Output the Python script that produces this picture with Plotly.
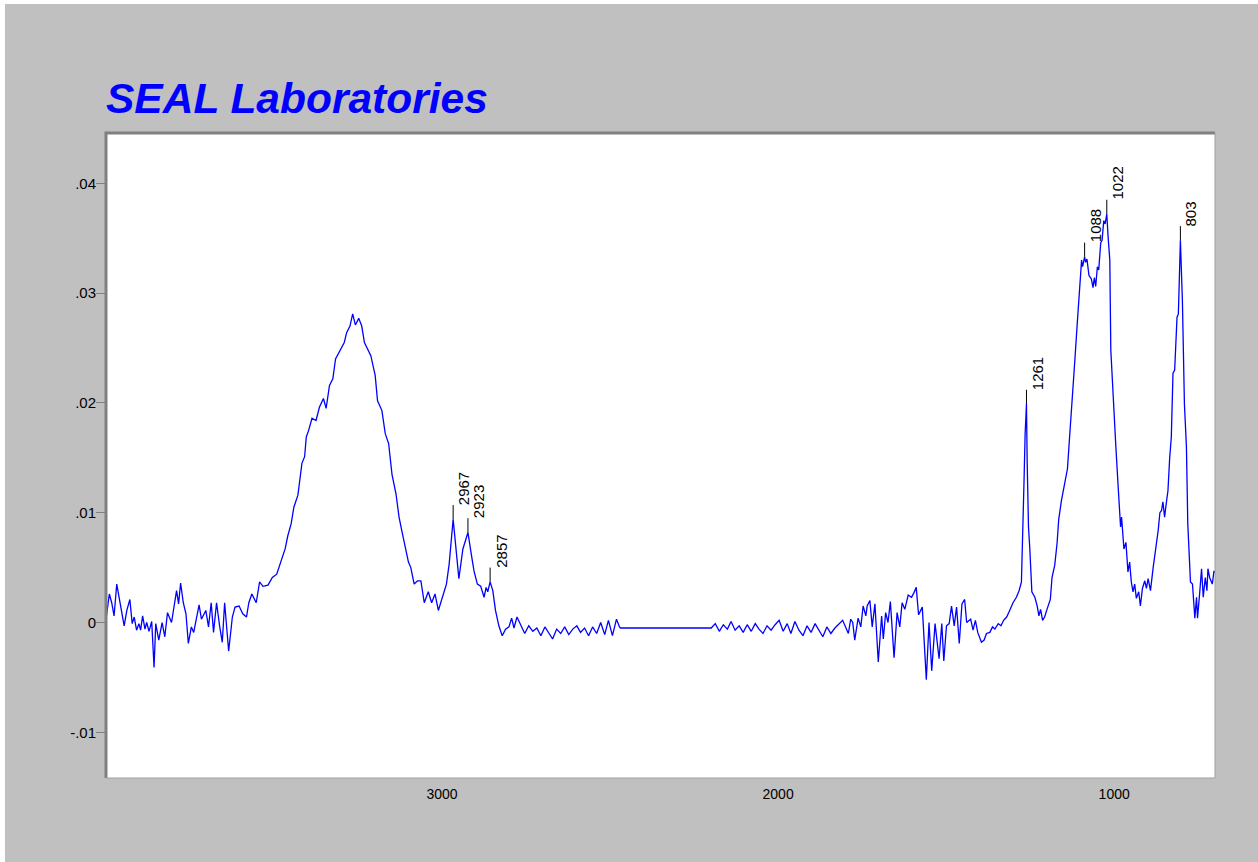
import plotly.graph_objects as go

wavenumber = [
    4000, 3990, 3983, 3976, 3968, 3958, 3946, 3938, 3929, 3922,
    3916, 3909, 3902, 3897, 3891, 3884, 3879, 3872, 3864, 3857,
    3852, 3843, 3833, 3825, 3817, 3805, 3798, 3790, 3784, 3778,
    3770, 3762, 3755, 3746, 3739, 3731, 3723, 3716, 3703, 3695,
    3687, 3680, 3671, 3662, 3654, 3647, 3635, 3624, 3616, 3604,
    3593, 3582, 3575, 3566, 3553, 3543, 3533, 3518, 3505, 3492,
    3479, 3467, 3459, 3449, 3441, 3429, 3424, 3417, 3409, 3404,
    3397, 3387, 3375, 3365, 3353, 3345, 3335, 3325, 3317, 3306,
    3291, 3284, 3274, 3266, 3258, 3248, 3239, 3231, 3222, 3212,
    3199, 3192, 3179, 3169, 3159, 3149, 3137, 3128, 3118, 3108,
    3100, 3093, 3083, 3073, 3063, 3053, 3041, 3031, 3021, 3011,
    2999, 2987, 2979, 2967, 2961, 2950, 2938, 2930, 2923, 2915,
    2905, 2895, 2885, 2875, 2869, 2864, 2857, 2849, 2841, 2831,
    2821, 2811, 2801, 2793, 2786, 2777, 2766, 2754, 2742, 2730,
    2718, 2706, 2694, 2683, 2671, 2659, 2647, 2635, 2623, 2611,
    2599, 2588, 2576, 2564, 2552, 2540, 2528, 2516, 2505, 2493,
    2481, 2472, 2469, 2199, 2187, 2175, 2163, 2151, 2140, 2128,
    2116, 2104, 2092, 2080, 2068, 2057, 2045, 2033, 2021, 2009,
    1997, 1985, 1973, 1962, 1950, 1938, 1926, 1914, 1902, 1890,
    1878, 1867, 1855, 1843, 1831, 1816, 1808, 1801, 1791, 1784,
    1778, 1772, 1762, 1754, 1747, 1739, 1735, 1727, 1720, 1712,
    1702, 1692, 1687, 1680, 1673, 1666, 1655, 1646, 1638, 1631,
    1623, 1613, 1603, 1596, 1589, 1582, 1571, 1559, 1551, 1543,
    1533, 1521, 1513, 1507, 1499, 1491, 1484, 1476, 1469, 1461,
    1453, 1445, 1439, 1427, 1420, 1413, 1406, 1395, 1387, 1380,
    1370, 1362, 1355, 1345, 1337, 1329, 1320, 1311, 1301, 1291,
    1283, 1276, 1271, 1268, 1265, 1261, 1259, 1255, 1251, 1245,
    1236, 1229, 1224, 1219, 1213, 1207, 1200, 1195, 1190, 1185,
    1177, 1170, 1165, 1157, 1147, 1139, 1134, 1127, 1117, 1110,
    1104, 1100, 1097, 1094, 1088, 1085, 1081, 1075, 1068, 1063,
    1059, 1055, 1050, 1046, 1040, 1036, 1031, 1027, 1022, 1018,
    1013, 1010, 1003, 995, 988, 981, 978, 971, 965, 959,
    954, 949, 944, 939, 934, 927, 922, 916, 909, 904,
    899, 892, 884, 876, 869, 864, 859, 855, 850, 844,
    840, 835, 830, 825, 820, 813, 809, 803, 797, 791,
    785, 781, 773, 767, 760, 755, 752, 745, 740, 735,
    729, 724, 721, 716, 708, 703, 700,
]

absorbance = [
    0.0003, 0.0026, 0.0018, 0.0006, 0.0035, 0.0018, -0.0003, 0.0011, 0.0021, -0.0001,
    0.0005, -0.0007, -0.0001, -0.0007, 0.0006, -0.0006, 0.0000, -0.0008, 0.0001, -0.0041,
    -0.0001, -0.0016, 0.0000, -0.0013, 0.0009, 0.0000, 0.0012, 0.0029, 0.0017, 0.0036,
    0.0018, 0.0008, -0.0019, -0.0004, -0.0009, 0.0002, 0.0016, 0.0003, 0.0011, -0.0004,
    0.0018, -0.0009, 0.0018, -0.0003, -0.0018, 0.0018, -0.0026, 0.0005, 0.0014, 0.0015,
    0.0008, 0.0005, 0.0018, 0.0026, 0.0018, 0.0037, 0.0033, 0.0034, 0.0041, 0.0044,
    0.0055, 0.0067, 0.0079, 0.0090, 0.0105, 0.0116, 0.0128, 0.0145, 0.0151, 0.0169,
    0.0175, 0.0186, 0.0184, 0.0196, 0.0204, 0.0195, 0.0216, 0.0222, 0.0240, 0.0246,
    0.0255, 0.0264, 0.0270, 0.0281, 0.0271, 0.0277, 0.0270, 0.0255, 0.0249, 0.0243,
    0.0225, 0.0202, 0.0193, 0.0172, 0.0163, 0.0135, 0.0117, 0.0096, 0.0081, 0.0066,
    0.0055, 0.0050, 0.0035, 0.0038, 0.0038, 0.0018, 0.0028, 0.0018, 0.0026, 0.0011,
    0.0023, 0.0035, 0.0053, 0.0094, 0.0075, 0.0040, 0.0067, 0.0076, 0.0082, 0.0066,
    0.0047, 0.0035, 0.0033, 0.0023, 0.0032, 0.0028, 0.0037, 0.0029, 0.0011, -0.0003,
    -0.0012, -0.0006, -0.0004, 0.0004, -0.0005, 0.0005, -0.0002, -0.0010, -0.0003, -0.0008,
    -0.0005, -0.0012, -0.0004, -0.0009, -0.0015, -0.0006, -0.0010, -0.0004, -0.0011, -0.0006,
    -0.0003, -0.0009, -0.0005, -0.0012, -0.0004, -0.0010, 0.0000, -0.0011, 0.0002, -0.0012,
    0.0003, -0.0004, -0.0005, -0.0005, -0.0001, -0.0008, -0.0002, -0.0006, 0.0001, -0.0007,
    -0.0003, -0.0009, -0.0002, -0.0008, -0.0001, -0.0006, -0.0010, -0.0003, -0.0007, -0.0002,
    0.0002, -0.0008, -0.0001, -0.0010, 0.0001, -0.0007, -0.0012, -0.0003, -0.0009, -0.0001,
    -0.0008, -0.0013, -0.0004, -0.0010, -0.0005, 0.0000, 0.0002, -0.0003, -0.0010, 0.0003,
    0.0000, -0.0016, 0.0004, -0.0004, 0.0015, 0.0006, 0.0015, 0.0020, -0.0004, 0.0017,
    -0.0036, 0.0006, -0.0015, 0.0009, 0.0000, 0.0019, -0.0032, 0.0009, -0.0004, 0.0018,
    0.0012, 0.0025, 0.0023, 0.0027, 0.0032, 0.0007, 0.0014, -0.0052, 0.0000, -0.0044,
    -0.0001, -0.0033, -0.0001, -0.0035, -0.0003, -0.0001, 0.0015, -0.0003, 0.0014, -0.0019,
    0.0017, 0.0021, 0.0000, 0.0003, -0.0007, 0.0002, -0.0009, -0.0018, -0.0016, -0.0010,
    -0.0009, -0.0004, -0.0006, -0.0001, -0.0003, 0.0002, 0.0005, 0.0011, 0.0018, 0.0023,
    0.0029, 0.0037, 0.0087, 0.0132, 0.0172, 0.0199, 0.0148, 0.0087, 0.0067, 0.0028,
    0.0023, 0.0015, 0.0006, 0.0012, 0.0002, 0.0005, 0.0012, 0.0017, 0.0021, 0.0041,
    0.0052, 0.0072, 0.0094, 0.0111, 0.0129, 0.0140, 0.0163, 0.0199, 0.0239, 0.0272,
    0.0302, 0.0321, 0.0330, 0.0324, 0.0333, 0.0328, 0.0331, 0.0316, 0.0313, 0.0305,
    0.0314, 0.0306, 0.0324, 0.0321, 0.0346, 0.0348, 0.0366, 0.0363, 0.0372, 0.0351,
    0.0330, 0.0248, 0.0202, 0.0160, 0.0123, 0.0087, 0.0096, 0.0067, 0.0073, 0.0046,
    0.0055, 0.0037, 0.0028, 0.0035, 0.0022, 0.0028, 0.0015, 0.0031, 0.0038, 0.0031,
    0.0040, 0.0029, 0.0050, 0.0067, 0.0084, 0.0100, 0.0102, 0.0110, 0.0096, 0.0111,
    0.0120, 0.0149, 0.0169, 0.0227, 0.0230, 0.0278, 0.0281, 0.0348, 0.0293, 0.0199,
    0.0160, 0.0090, 0.0037, 0.0035, 0.0004, 0.0023, 0.0004, 0.0029, 0.0049, 0.0023,
    0.0041, 0.0029, 0.0049, 0.0041, 0.0035, 0.0047, 0.0045,
]

peak_wavenumber = [2967, 2923, 2857, 1261, 1088, 1022, 803]
peak_absorbance = [0.0094, 0.0082, 0.0037, 0.0199, 0.0333, 0.0372, 0.0348]

y_tick_values = [-0.01, 0.0, 0.01, 0.02, 0.03, 0.04]
y_tick_labels = ["-.01", "0", ".01", ".02", ".03", ".04"]
x_tick_values = [3000, 2000, 1000]
x_tick_labels = ["3000", "2000", "1000"]
title_text = "SEAL Laboratories"

MARK_LEN = 0.0013
FONT = "Liberation Sans, Arial, sans-serif"

fig = go.Figure()
fig.add_trace(go.Scatter(
    x=wavenumber, y=absorbance, mode="lines",
    line=dict(color="#0000ff", width=1.3), hoverinfo="skip", showlegend=False,
))

mark_x, mark_y = [], []
for w, a in zip(peak_wavenumber, peak_absorbance):
    mark_x += [w, w, None]
    mark_y += [a, a + MARK_LEN, None]
fig.add_trace(go.Scatter(
    x=mark_x, y=mark_y, mode="lines",
    line=dict(color="#000000", width=1), hoverinfo="skip", showlegend=False,
))

for w, a in zip(peak_wavenumber, peak_absorbance):
    fig.add_annotation(
        x=w, y=a + MARK_LEN, text=str(w), textangle=-90,
        xanchor="left", yanchor="bottom", showarrow=False,
        font=dict(family=FONT, size=15, color="#000000"),
        xshift=0, yshift=-2,
    )

fig.add_annotation(
    xref="paper", yref="paper", x=0, y=1, xanchor="left", yanchor="bottom",
    text="<b><i>" + title_text + "</i></b>", showarrow=False,
    font=dict(family=FONT, size=42.5, color="#0000ff"), yshift=9, xshift=-2,
)

# sunken frame
fig.add_shape(type="line", xref="paper", yref="paper", x0=-0.001, x1=1, y0=1, y1=1,
              line=dict(color="#808080", width=3))
fig.add_shape(type="line", xref="paper", yref="paper", x0=0, x1=0, y0=0, y1=1.002,
              line=dict(color="#808080", width=3))
fig.add_shape(type="line", xref="paper", yref="paper", x0=0, x1=1, y0=0, y1=0,
              line=dict(color="#a0a0a0", width=1))
fig.add_shape(type="line", xref="paper", yref="paper", x0=1, x1=1, y0=0, y1=1,
              line=dict(color="#a0a0a0", width=1))
# thin white outer edge of the picture
fig.add_shape(type="rect", xref="paper", yref="paper", x0=-0.2, x1=-0.0911, y0=-0.2, y1=1.3,
              line=dict(width=0), fillcolor="#ffffff")
fig.add_shape(type="rect", xref="paper", yref="paper", x0=-0.2, x1=1.2, y0=1.2, y1=1.3,
              line=dict(width=0), fillcolor="#ffffff")

fig.update_layout(
    width=1258, height=862,
    margin=dict(l=106, r=43, t=133, b=84),
    paper_bgcolor="#c0c0c0", plot_bgcolor="#ffffff",
    showlegend=False,
    font=dict(family=FONT, size=14, color="#000000"),
    xaxis=dict(
        range=[4000, 700], tickmode="array", tickvals=x_tick_values, ticktext=x_tick_labels,
        showgrid=False, zeroline=False, showline=False, ticks="", ticklabelstandoff=6,
        tickfont=dict(family=FONT, size=14, color="#000000"),
    ),
    yaxis=dict(
        range=[-0.01416, 0.04458], tickmode="array", tickvals=y_tick_values, ticktext=y_tick_labels,
        showgrid=False, zeroline=False, showline=False, ticks="outside", ticklen=9,
        tickcolor="#808080", tickwidth=1, ticklabelstandoff=-3,
        tickfont=dict(family=FONT, size=15, color="#000000"),
    ),
)

fig.write_html("out.html")
